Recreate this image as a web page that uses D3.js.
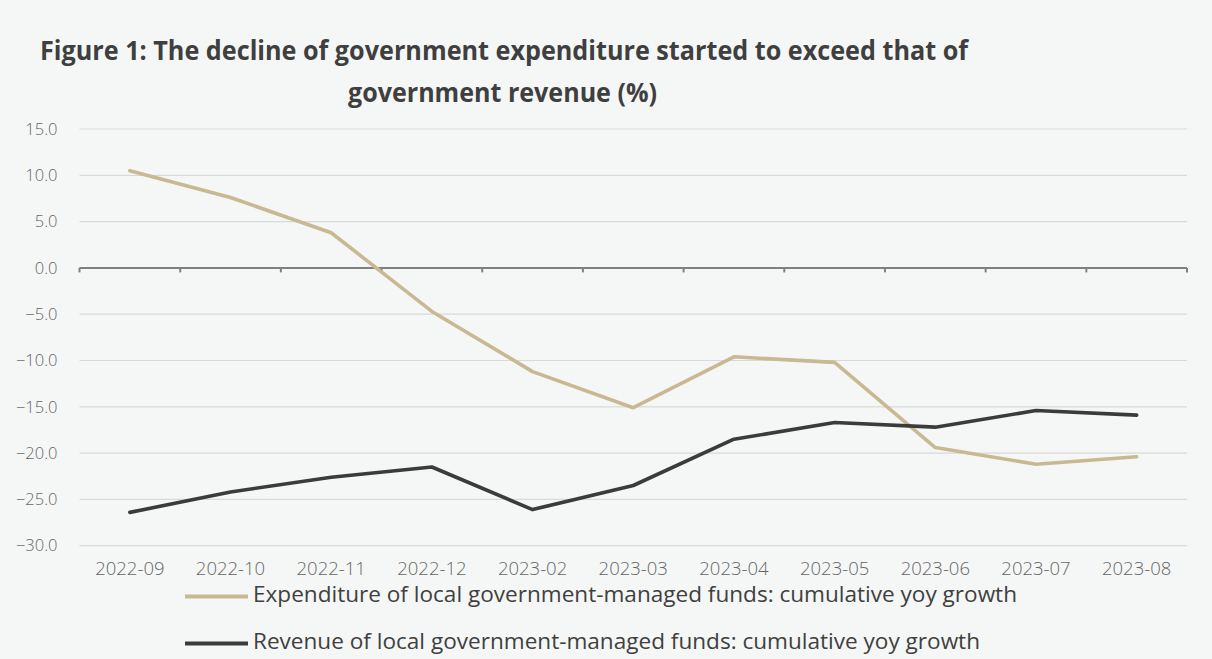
<!DOCTYPE html>
<html>
<head>
<meta charset="utf-8">
<script src="https://cdn.jsdelivr.net/npm/d3@7"></script>
<style>
  html, body { margin: 0; padding: 0; background: #f5f7f6; }
  svg { display: block; font-family: "Open Sans", "Noto Sans", sans-serif; }
</style>
</head>
<body>
<svg id="chart" width="1212" height="659"></svg>
<script>
// Monthly observations
const categories = ["2022-09", "2022-10", "2022-11", "2022-12", "2023-02", "2023-03",
                    "2023-04", "2023-05", "2023-06", "2023-07", "2023-08"];
const expenditure = [10.5, 7.6, 3.8, -4.7, -11.2, -15.1, -9.6, -10.2, -19.4, -21.2, -20.4];
const revenue = [-26.4, -24.2, -22.6, -21.5, -26.1, -23.5, -18.5, -16.7, -17.2, -15.4, -15.9];
const yTicks = [15, 10, 5, 0, -5, -10, -15, -20, -25, -30];
const seriesNames = [
  "Expenditure of local government-managed funds: cumulative yoy growth",
  "Revenue of local government-managed funds: cumulative yoy growth"
];
const titleLines = [
  "Figure 1: The decline of government expenditure started to exceed that of",
  "government revenue (%)"
];

const svg = d3.select("#chart");
const W = 1212, H = 659;
svg.append("rect").attr("width", W).attr("height", H).attr("fill", "#f5f7f6");

const plot = { left: 79.5, right: 1187, top: 129, bottom: 545.7 };

const x = d3.scaleBand().domain(categories).range([plot.left, plot.right]).padding(0);
const y = d3.scaleLinear().domain([-30, 15]).range([plot.bottom, plot.top]);
const cx = d => x(d) + x.bandwidth() / 2;

// Title
const title = svg.append("g").attr("fill", "#3f3f3f").attr("font-weight", 700).attr("font-size", 26);
title.append("text").attr("x", 40).attr("y", 60).attr("textLength", 928)
  .attr("lengthAdjust", "spacingAndGlyphs").text(titleLines[0]);
title.append("text").attr("x", 348).attr("y", 102).attr("textLength", 309)
  .attr("lengthAdjust", "spacingAndGlyphs").text(titleLines[1]);

// Horizontal gridlines
svg.append("g")
  .selectAll("line")
  .data(yTicks.filter(t => t !== 0))
  .join("line")
  .attr("x1", plot.left).attr("x2", plot.right)
  .attr("y1", d => y(d)).attr("y2", d => y(d))
  .attr("stroke", "#d9d9d9").attr("stroke-width", 1.2);

// Y axis labels
const yAxis = svg.append("g")
  .attr("transform", `translate(${plot.left},0)`)
  .call(d3.axisLeft(y).tickValues(yTicks).tickFormat(d3.format(".1f")).tickSize(0).tickPadding(22));
yAxis.select(".domain").remove();
yAxis.selectAll("text").attr("fill", "#666666").attr("font-size", 16.5)
  .attr("font-weight", 300).attr("font-family", "'Open Sans', sans-serif");

// Zero line with category boundary ticks
const zeroY = y(0);
const zero = svg.append("g");
zero.append("line")
  .attr("x1", plot.left).attr("x2", plot.right)
  .attr("y1", zeroY).attr("y2", zeroY)
  .attr("stroke", "#808080").attr("stroke-width", 2);
const bounds = categories.map(c => x(c)).concat([plot.right]);
zero.selectAll("line.tick")
  .data(bounds)
  .join("line").attr("class", "tick")
  .attr("x1", d => d).attr("x2", d => d)
  .attr("y1", zeroY).attr("y2", zeroY + 4.5)
  .attr("stroke", "#808080").attr("stroke-width", 2);

// X axis labels
const xAxis = svg.append("g")
  .attr("transform", `translate(0,${plot.bottom})`)
  .call(d3.axisBottom(x).tickSize(0).tickPadding(16));
xAxis.select(".domain").remove();
xAxis.selectAll("text").attr("fill", "#666666").attr("font-size", 18.5)
  .attr("font-weight", 300).attr("font-family", "'Open Sans', sans-serif");

// Series lines
const line = d3.line().x((d, i) => cx(categories[i])).y(d => y(d));
const series = [
  { name: seriesNames[0], values: expenditure, color: "#c9b993" },
  { name: seriesNames[1], values: revenue, color: "#3b3b3b" }
];
svg.append("g")
  .selectAll("path")
  .data(series)
  .join("path")
  .attr("d", d => line(d.values))
  .attr("fill", "none")
  .attr("stroke", d => d.color)
  .attr("stroke-width", 3.6)
  .attr("stroke-linejoin", "round")
  .attr("stroke-linecap", "round");

// Legend
const legendRows = [
  { y: 596.5, textY: 602, len: 764 },
  { y: 643.5, textY: 649, len: 727 }
];
const legend = svg.append("g");
series.forEach((s, i) => {
  const r = legendRows[i];
  legend.append("line")
    .attr("x1", 185).attr("x2", 248)
    .attr("y1", r.y).attr("y2", r.y)
    .attr("stroke", s.color).attr("stroke-width", 4);
  legend.append("text")
    .attr("x", 253).attr("y", r.textY)
    .attr("fill", "#404040").attr("font-size", 22.5)
    .attr("textLength", r.len).attr("lengthAdjust", "spacingAndGlyphs")
    .text(s.name);
});
</script>
</body>
</html>
